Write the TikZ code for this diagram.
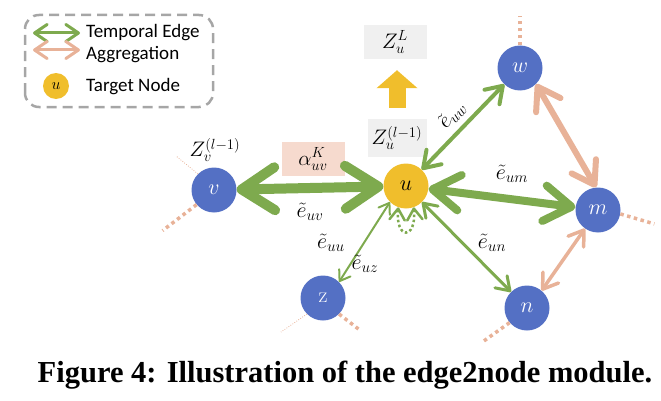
\RequirePackage{fix-cm}
\documentclass[tikz,border=0pt]{standalone}
\usepackage{fontspec}
\newfontfamily\legfont{Carlito}
\newfontfamily\capfont{Liberation Serif}
\usetikzlibrary{arrows.meta}
\definecolor{egreen}{RGB}{126,170,78}
\definecolor{epink}{RGB}{232,178,152}
\definecolor{nblue}{RGB}{84,112,196}
\definecolor{nyellow}{RGB}{240,190,44}
\definecolor{boxpink}{RGB}{246,218,206}
\definecolor{boxgray}{RGB}{240,240,240}
\definecolor{leggray}{RGB}{166,166,166}
\begin{document}
\begin{tikzpicture}[x=1pt,y=1pt,bn/.style={circle,fill=nblue,minimum size=45pt,inner sep=0pt,text=white,font=\fontsize{22}{24}\selectfont},yn/.style={circle,fill=nyellow,minimum size=45pt,inner sep=0pt,font=\fontsize{22}{24}\selectfont},ge/.style={draw=egreen,{Straight Barb[round,length=4pt 2.9,width=6pt 3.7]}-{Straight Barb[round,length=4pt 2.9,width=6pt 3.7]}},pe/.style={ge,draw=epink},stub/.style={draw=epink,line width=3.5pt,dash pattern=on 3.5pt off 3.5pt},thinstub/.style={draw=epink,line width=0.8pt,dash pattern=on 0.8pt off 1.6pt},lbl/.style={font=\fontsize{22}{24}\selectfont,inner sep=1pt},zl/.style={font=\fontsize{21}{23}\selectfont,inner sep=1pt},leg/.style={font=\legfont\fontsize{19}{21}\selectfont,anchor=west,inner sep=0pt}]
\useasboundingbox (0,0) rectangle (661,400);
% legend
\draw[leggray,line width=2.5pt,dash pattern=on 10pt off 6pt,rounded corners=14pt] (25,293) rectangle (213,385);
\coordinate (g1) at (33,367);
\coordinate (g2) at (80,367);
\coordinate (p1) at (33,350);
\coordinate (p2) at (80,350);
\draw[ge,line width=3pt] (g1) -- (g2);
\draw[pe,line width=3pt] (p1) -- (p2);
\node[yn,minimum size=26pt,font=\fontsize{16}{18}\selectfont] (lu) at (56,314) {$u$};
\node[leg] (lt) at (86,367) {Temporal Edge};
\node[leg] (la) at (86,345) {Aggregation};
\node[leg] (ln) at (86,313) {Target Node};
% boxes
\node[zl,fill=boxpink,minimum width=63pt,minimum height=34pt] (alp) at (313,241) {$\alpha_{uv}^K$};
\node[zl,fill=boxgray,minimum width=59pt,minimum height=38pt] (zu) at (397,262) {$Z_u^{(l-1)}$};
\node[zl,fill=boxgray,minimum width=63pt,minimum height=34pt] (zL) at (395,358) {$Z_u^L$};
\node[zl] (zv) at (215,250) {$Z_v^{(l-1)}$};
\draw[nyellow,line width=17pt,-{Triangle[length=18pt,width=40pt]}] ([yshift=11pt]zu.north) -- ([yshift=-11pt]zu.north |- zL.south);
% nodes
\node[yn] (u) at (406,214) {$u$};
\node[bn] (v) at (214,210) {$v$};
\node[bn] (w) at (520,332) {$w$};
\node[bn] (m) at (598,190) {$m$};
\node[bn] (n) at (527,92) {$n$};
\node[bn] (z) at (323,102) {z};
% stubs
\draw[stub] (w.north) -- ++(0,29);
\draw[stub] (m.-10) -- ++(34,-10);
\draw[stub] (n.-140) -- ++(-28,-20);
\draw[thinstub] (v.135) -- ++(-22,18);
\draw[stub] (v.-140) -- ++(-34,-26);
\draw[thinstub] (z.-135) -- ++(-26,-18);
\draw[stub] (z.-45) -- ++(22,-17);
% edges
\draw[ge,line width=10pt] (v) -- (u);
\draw[ge,line width=8pt] (u) -- (m);
\draw[ge,line width=4pt] (u) -- (w);
\draw[ge,line width=3pt] (u) -- (n);
\draw[ge,line width=2pt] (u.-135) -- (z.45);
\draw[ge,line width=2.5pt,dash pattern=on 2.5pt off 2.5pt] (u.-110) .. controls +(-95:33) and +(-85:33) .. (u.-70);
\draw[pe,line width=6pt] (w.-45) -- (m.95);
\draw[pe,line width=3.5pt] (m.-125) -- (n.50);
% edge labels
\node[lbl] (euv) at (310,188) {$\tilde{e}_{uv}$};
\node[lbl,rotate=48] (euw) at (452,285) {$\tilde{e}_{uw}$};
\node[lbl] (eum) at (512,226) {$\tilde{e}_{um}$};
\node[lbl] (eun) at (492,157) {$\tilde{e}_{un}$};
\node[lbl] (euu) at (331,157) {$\tilde{e}_{uu}$};
\node[lbl] (euz) at (365,136) {$\tilde{e}_{uz}$};
% caption
\node[font=\capfont\bfseries\fontsize{30.5}{34}\selectfont] (cap) at (345,25) {Figure 4: Illustration of the edge2node module.};
\end{tikzpicture}
\end{document}
